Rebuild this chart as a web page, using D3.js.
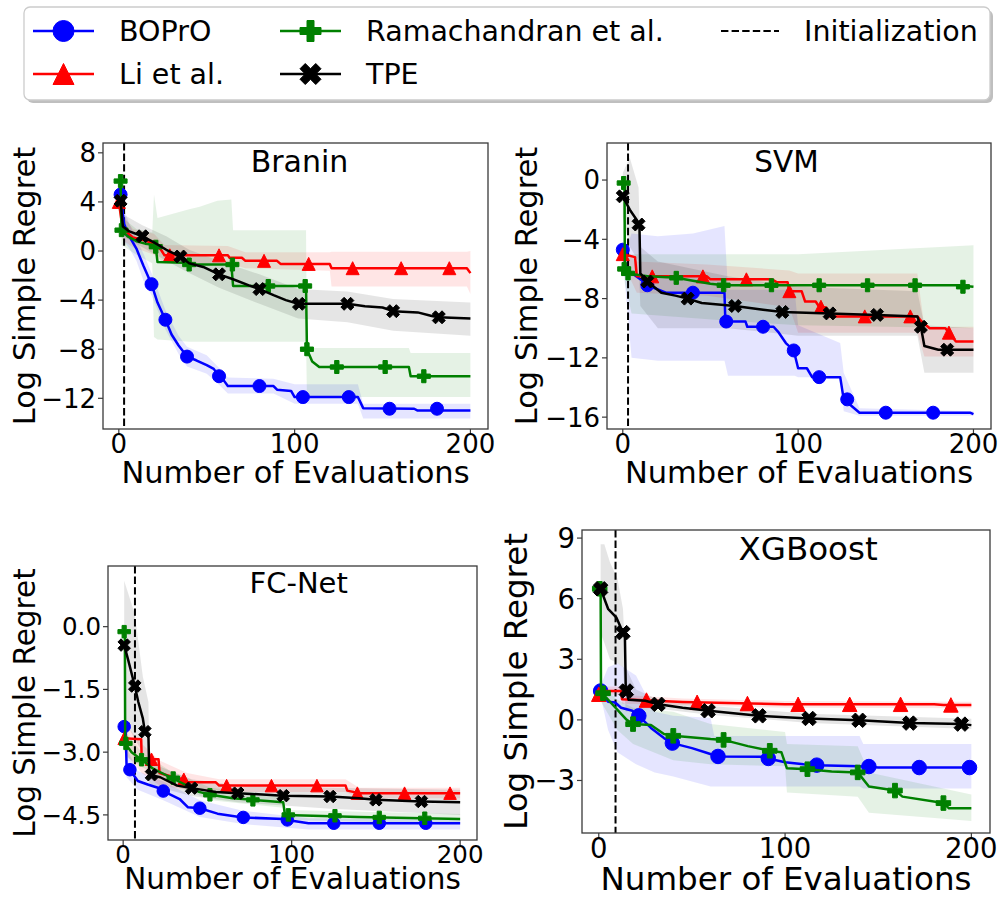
<!DOCTYPE html>
<html>
<head>
<meta charset="utf-8">
<script src="https://cdn.jsdelivr.net/npm/d3@7"></script>
<style>
body { margin: 0; background: #fff; }
svg { font-family: "DejaVu Sans", sans-serif; }
</style>
</head>
<body>
<div id="chart"></div>
<script>
var methods = ["BOPrO", "Li et al.", "Ramachandran et al.", "TPE"];
var xTicks = [0, 100, 200];

// ---- Branin ----
var braninYTicks = [8, 4, 0, -4, -8, -12];
var braninBoproLine = [[1,4.6],[3,2.2],[6,1.2],[10,0.2],[14,-1.2],[18.6,-2.7],[22,-4.2],[26.5,-5.6],[30,-6.8],[34,-7.7],[38.8,-8.6],[44,-8.9],[50,-9.3],[54,-9.6],[57,-10.2],[60,-10.6],[62,-11.0],[88,-11.0],[90,-11.3],[98,-11.4],[100,-11.9],[136,-11.9],[139,-12.8],[168,-12.85],[170,-13.0],[200,-13.0]];
var braninBoproBand = [[1,3.8,5.3],[3,0.8,3.4],[6,0.2,2.2],[10,-0.8,1.0],[14,-2.4,-0.2],[18.6,-3.6,-1.8],[26.5,-6.4,-4.8],[34,-8.4,-6.9],[38.8,-9.4,-7.8],[50,-10.0,-8.5],[57,-10.9,-9.5],[62,-11.6,-10.3],[88,-11.6,-10.4],[100,-12.45,-10.85],[136,-12.45,-10.85],[139,-13.65,-12.45],[200,-13.65,-12.45]];
var braninBoproMarks = [[1,4.6],[18.6,-2.7],[26.5,-5.6],[38.8,-8.6],[57,-10.2],[80,-11.0],[104.7,-11.9],[130.8,-11.9],[154,-12.85],[181,-12.85]];
var braninLiLine = [[0,4.0],[2,2.0],[4,1.6],[8,1.1],[14,0.9],[20,0.6],[24,0.1],[26,-0.35],[62,-0.35],[63,-0.55],[70,-0.55],[72,-0.8],[90,-0.8],[92,-1.05],[120,-1.05],[121,-1.4],[198,-1.4],[200,-1.8]];
var braninLiBand = [[0,3.5,4.5],[2,0.9,3.0],[8,0.3,1.8],[20,-0.3,1.4],[26,-1.0,0.5],[62,-1.0,0.4],[72,-1.4,-0.1],[120,-1.6,-0.1],[121,-2.9,-0.05],[198,-2.9,-0.05],[200,-3.5,0.0]];
var braninLiMarks = [[0,4.0],[29,-0.35],[57,-0.35],[82.6,-0.8],[108,-1.05],[133,-1.4],[160.6,-1.4],[188,-1.4]];
var braninRamLine = [[1,5.7],[1.5,1.7],[5,1.2],[10,0.8],[15,0.6],[20,0.5],[21,0.35],[22,-0.9],[37,-0.95],[40,-1.1],[64,-1.1],[65,-2.85],[106.5,-2.85],[107,-8.0],[110,-9.0],[114,-9.45],[165,-9.45],[166,-10.2],[200,-10.2]];
var braninRamBand = [[1,4.8,6.5],[1.5,0.5,2.8],[10,-0.3,1.8],[19,-1.0,1.5],[20,-7.0,4.6],[22,-7.2,2.7],[40,-7.4,3.4],[46,-7.4,3.6],[56,-7.4,4.1],[64,-7.4,4.2],[65,-7.4,1.7],[106.5,-7.4,1.7],[107,-11.9,-7.9],[165,-11.9,-7.9],[166,-11.9,-8.3],[200,-11.9,-8.3]];
var braninRamMarks = [[1,5.7],[1.5,1.7],[21,0.35],[40,-1.1],[64.6,-1.1],[85,-2.85],[106,-2.85],[107,-8.0],[124,-9.45],[151.5,-9.45],[173.5,-10.2]];
var braninTpeLine = [[1,4.1],[2.3,2.0],[6,1.6],[13.4,1.2],[20,0.7],[27,0.1],[35,-0.45],[40,-1.0],[48,-1.3],[57,-1.9],[65,-2.3],[74,-2.8],[80,-3.1],[88,-3.6],[95,-4.0],[102,-4.3],[130,-4.3],[140,-4.5],[150,-4.6],[156,-4.9],[170,-5.0],[178,-5.3],[182,-5.4],[200,-5.5]];
var braninTpeBand = [[1,3.5,4.8],[2.3,1.2,3.0],[13.4,0.3,2.1],[27,-0.8,1.2],[40,-1.8,0.1],[57,-3.0,-0.8],[80,-4.3,-1.9],[102,-5.5,-3.1],[130,-5.8,-3.3],[156,-6.5,-3.9],[200,-6.9,-4.2]];
var braninTpeMarks = [[1,4.1],[13.4,1.2],[35,-0.45],[57,-1.9],[80,-3.1],[102.5,-4.3],[130,-4.3],[156,-4.9],[182,-5.4]];

// ---- SVM ----
var svmYTicks = [0, -4, -8, -12, -16];
var svmBoproLine = [[0,-4.7],[2,-6.0],[5.5,-6.3],[10,-6.7],[15,-7.15],[24.6,-7.6],[58,-7.6],[58.5,-9.55],[70,-9.55],[71,-9.9],[86,-9.9],[89,-10.3],[93,-11.0],[97.5,-11.5],[100,-12.7],[105,-12.7],[108,-13.3],[124,-13.3],[126,-14.8],[130,-15.2],[135,-15.7],[198,-15.7],[200,-15.8]];
var svmBoproBand = [[0,-5.2,-4.2],[2,-8.0,-4.6],[5,-12.0,-3.6],[20,-12.2,-3.8],[40,-12.2,-3.6],[58,-12.2,-3.1],[60,-13.2,-7.4],[98,-13.2,-7.4],[100,-13.3,-9.8],[124,-13.3,-11.0],[126,-15.6,-13.0],[135,-15.9,-15.4],[200,-15.9,-15.6]];
var svmBoproMarks = [[0,-4.7],[14,-7.1],[40,-7.6],[59,-9.55],[80,-9.9],[97.5,-11.5],[112,-13.3],[128,-14.8],[150,-15.7],[177,-15.7]];
var svmLiLine = [[0,-5.0],[7,-5.2],[8,-6.5],[48,-6.5],[50,-6.7],[85,-6.7],[88,-6.9],[94,-6.9],[95,-7.5],[102,-7.5],[104,-8.2],[110,-8.2],[112,-8.55],[116,-8.6],[118,-9.2],[168,-9.2],[170,-9.5],[175,-10.0],[184,-10.0],[186,-10.3],[190,-10.9],[200,-10.9]];
var svmLiBand = [[0,-5.6,-4.4],[8,-7.6,-5.5],[48,-7.8,-5.7],[95,-8.6,-6.1],[100,-10.3,-6.3],[168,-10.3,-6.3],[172,-11.9,-9.9],[200,-11.9,-9.9]];
var svmLiMarks = [[0,-5.0],[16.8,-6.5],[45.7,-6.5],[70.5,-6.7],[95,-7.5],[113,-8.55],[138,-9.2],[164,-9.2],[186,-10.3]];
var svmRamLine = [[0,-0.2],[1,-0.2],[1.2,-6.0],[3,-6.3],[15,-6.5],[30.5,-6.6],[40,-6.8],[50,-7.0],[57.5,-7.1],[190,-7.1],[200,-7.2]];
var svmRamBand = [[0,-0.8,0.4],[1.2,-7.0,-5.0],[5,-9.0,-5.0],[60,-9.5,-5.0],[100,-9.8,-5.0],[200,-10.0,-4.4]];
var svmRamMarks = [[0.5,-0.2],[0.8,-6.0],[3,-6.3],[30.5,-6.6],[57.5,-7.1],[84.8,-7.1],[112,-7.1],[139.6,-7.1],[166.7,-7.1],[194,-7.2]];
var svmTpeLine = [[0,-1.1],[4,-2.0],[8,-2.7],[9.5,-3.0],[10,-6.3],[14,-6.85],[22,-7.6],[30,-7.8],[37,-8.0],[45,-8.3],[64,-8.5],[80,-8.75],[91,-8.9],[118,-9.0],[145,-9.1],[168,-9.2],[170,-9.9],[172,-11.2],[180,-11.45],[200,-11.45]];
var svmTpeBand = [[0,-2.5,0.5],[4,-4.5,1.5],[9,-5.5,-0.5],[10,-8.5,-4.5],[20,-10.0,-5.5],[60,-10.0,-6.5],[100,-10.5,-7.2],[168,-10.5,-7.5],[172,-13.0,-9.8],[200,-13.0,-10.0]];
var svmTpeMarks = [[0,-1.1],[9,-3.0],[14,-6.85],[37,-8.0],[64,-8.5],[91,-8.9],[118,-9.0],[145,-9.1],[170,-9.9],[185,-11.45]];

// ---- FC-Net ----
var fcYTicks = [0.0, -1.5, -3.0, -4.5];
var fcBoproLine = [[0.6,-2.39],[1.5,-2.39],[2,-3.3],[4,-3.42],[8.7,-3.69],[15,-3.78],[20.6,-3.85],[23.8,-3.93],[33.5,-4.12],[38.5,-4.32],[45.5,-4.34],[56,-4.47],[71,-4.56],[95,-4.6],[97.4,-4.62],[110,-4.7],[200,-4.7]];
var fcBoproBand = [[0.6,-2.6,-2.2],[2,-3.6,-2.9],[8.7,-3.9,-3.45],[23.8,-4.15,-3.7],[45.5,-4.55,-4.15],[71,-4.72,-4.4],[110,-4.85,-4.58],[200,-4.85,-4.6]];
var fcBoproMarks = [[0.6,-2.39],[4,-3.42],[23.8,-3.93],[45.5,-4.34],[71.3,-4.56],[97.4,-4.62],[125,-4.7],[152,-4.7],[179.6,-4.7]];
var fcLiLine = [[0.6,-2.67],[10.7,-2.69],[11,-3.17],[21,-3.17],[21.6,-3.5],[30,-3.6],[36,-3.65],[38,-3.72],[55,-3.72],[57,-3.8],[132,-3.8],[133,-3.92],[140,-3.98],[200,-3.98]];
var fcLiBand = [[0.6,-3.0,-2.3],[11,-3.5,-2.8],[21.6,-3.8,-3.2],[38,-3.9,-3.5],[57,-3.95,-3.65],[132,-3.95,-3.65],[140,-4.1,-3.85],[200,-4.1,-3.85]];
var fcLiMarks = [[0.6,-2.67],[16.8,-3.17],[36,-3.65],[61.4,-3.8],[88,-3.8],[115,-3.8],[139,-3.98],[167,-3.98],[194,-3.98]];
var fcRamLine = [[0.6,-0.12],[1,-0.12],[1.2,-2.79],[5,-3.0],[10.9,-3.18],[18,-3.4],[28,-3.6],[38,-3.8],[45,-3.95],[52,-4.02],[65,-4.1],[77,-4.14],[95,-4.2],[96,-4.5],[140,-4.55],[200,-4.6]];
var fcRamBand = [[0.6,-0.4,0.2],[1.2,-3.1,-2.5],[10.9,-3.35,-3.0],[28,-3.75,-3.45],[52,-4.15,-3.85],[95,-4.33,-4.05],[96,-4.62,-4.38],[200,-4.72,-4.48]];
var fcRamMarks = [[0.6,-0.12],[1.6,-2.79],[10.9,-3.18],[29.7,-3.62],[51.5,-4.02],[77,-4.14],[98,-4.5],[125.7,-4.52],[152,-4.56],[179,-4.58]];
var fcTpeLine = [[0.6,-0.44],[3,-0.8],[6.9,-1.42],[9,-1.8],[11.7,-2.2],[12.9,-2.51],[15,-2.6],[15.5,-3.54],[22,-3.6],[32,-3.8],[40.6,-3.86],[55,-3.95],[68,-3.98],[95,-4.04],[123,-4.06],[140,-4.1],[150,-4.14],[177,-4.18],[200,-4.2]];
var fcTpeBand = [[0.6,-2.2,1.1],[6.9,-2.7,0.3],[11.7,-3.0,-1.2],[15,-3.2,-1.8],[15.5,-3.8,-3.2],[22,-3.85,-3.35],[40.6,-4.05,-3.65],[68,-4.2,-3.8],[123,-4.35,-3.85],[200,-4.5,-3.9]];
var fcTpeMarks = [[0.6,-0.44],[6.9,-1.42],[12.9,-2.51],[16.8,-3.54],[40.6,-3.86],[68,-3.98],[95,-4.04],[122.8,-4.06],[150,-4.14],[177,-4.18]];

// ---- XGBoost ----
var xgbYTicks = [9, 6, 3, 0, -3];
var xgbBoproLine = [[1,1.43],[3,1.1],[5,0.9],[8.8,0.86],[12,0.6],[18,0.45],[21.5,0.2],[28,-0.4],[35,-0.9],[39.5,-1.15],[50,-1.4],[57,-1.6],[64,-1.81],[88,-1.82],[91,-1.91],[100,-2.1],[110,-2.2],[117,-2.24],[140,-2.3],[150,-2.36],[200,-2.36]];
var xgbBoproBand = [[1,1.2,1.7],[5,-0.5,2.6],[10,-1.6,2.8],[20,-2.2,2.2],[30,-2.6,0.4],[40,-2.8,0.2],[60,-3.3,0.1],[62,-3.3,-0.8],[140,-3.3,-0.8],[142,-3.4,-1.2],[200,-3.4,-1.2]];
var xgbBoproMarks = [[1,1.43],[21.5,0.2],[39.5,-1.15],[64,-1.81],[91,-1.91],[117,-2.24],[145,-2.31],[172,-2.36],[199,-2.36]];
var xgbLiLine = [[0,1.27],[2,1.43],[12,1.43],[12.5,1.02],[30,0.95],[45,0.89],[75,0.82],[100,0.77],[180,0.77],[185,0.74],[200,0.74]];
var xgbLiBand = [[0,1.1,1.45],[2,1.25,1.65],[12,1.25,1.65],[12.5,0.8,1.25],[45,0.72,1.06],[100,0.6,0.94],[200,0.58,0.9]];
var xgbLiMarks = [[0,1.27],[25.6,0.98],[52.8,0.87],[79.8,0.81],[107,0.77],[134.7,0.77],[162,0.77],[189,0.74]];
var xgbRamLine = [[0.5,6.49],[1,6.49],[1.2,1.3],[3,1.2],[8,0.7],[12,0.3],[15,0.0],[18.4,-0.21],[28,-0.25],[35,-0.7],[40,-0.79],[60,-0.95],[67,-0.99],[80,-1.3],[92,-1.53],[98,-1.6],[101,-2.4],[112,-2.44],[125,-2.55],[139,-2.6],[145,-3.3],[159,-3.5],[163,-3.8],[185,-4.12],[188,-4.38],[200,-4.38]];
var xgbRamBand = [[0.5,6.2,6.8],[1.2,0.9,1.7],[10,-0.5,1.0],[18.4,-1.2,0.6],[40,-2.0,0.4],[60,-2.2,-0.2],[100,-2.3,-0.6],[101,-3.6,-1.2],[139,-3.8,-1.3],[145,-4.6,-2.6],[200,-5.0,-3.7]];
var xgbRamMarks = [[0.5,6.49],[2.3,1.32],[18.4,-0.21],[40,-0.79],[67,-0.99],[91.8,-1.53],[112,-2.44],[139,-2.6],[159,-3.5],[185,-4.12]];
var xgbTpeLine = [[1,6.49],[5,5.5],[9.5,5.06],[13,4.32],[14,4.32],[14.5,1.5],[16,1.0],[25,0.95],[32,0.77],[45,0.6],[59,0.45],[75,0.3],[86,0.2],[113,0.07],[140,-0.02],[167,-0.16],[195,-0.21],[200,-0.26]];
var xgbTpeBand = [[1,4.3,8.7],[3,3.8,8.7],[6,3.0,7.8],[10,2.8,7.0],[13,2.6,5.5],[14.5,0.4,2.6],[20,0.5,1.5],[32,0.55,1.0],[59,0.25,0.7],[113,-0.15,0.3],[200,-0.45,0.05]];
var xgbTpeMarks = [[1,6.49],[13,4.32],[14.8,1.43],[31.8,0.77],[58.7,0.45],[86,0.2],[112.9,0.07],[139.7,-0.02],[166.9,-0.16],[194.6,-0.21]];

var colors = ["blue", "red", "green", "black"];
var kinds = ["circle", "triangle", "plus", "cross"];

var svg = d3.select("#chart").append("svg")
    .attr("width", 1000)
    .attr("height", 898);

// marker outline centred on 0,0 inside a box of size s
function markerPath(kind, s) {
    var h = s / 2;
    if (kind == "circle") {
        return "M" + h + ",0A" + h + "," + h + " 0 1 1 " + (-h) + ",0A" + h + "," + h + " 0 1 1 " + h + ",0Z";
    }
    if (kind == "triangle") {
        return "M0," + (-h) + "L" + (-h) + "," + h + "L" + h + "," + h + "Z";
    }
    var pts;
    if (kind == "plus") {
        pts = [[-1,-3],[-1,-1],[-3,-1],[-3,1],[-1,1],[-1,3],[1,3],[1,1],[3,1],[3,-1],[1,-1],[1,-3]].map(function(p) { return [p[0]/6*s, p[1]/6*s]; });
    } else {
        pts = [[-1,-2],[0,-1],[1,-2],[2,-1],[1,0],[2,1],[1,2],[0,1],[-1,2],[-2,1],[-1,0],[-2,-1]].map(function(p) { return [p[0]/4*s, p[1]/4*s]; });
    }
    return "M" + pts.map(function(p) { return p.join(","); }).join("L") + "Z";
}

var panels = [
    {title: "Branin", box: [103, 143, 385, 286], yDom: [-14.5, 8.8], yTicks: braninYTicks, fmt: d3.format("d"),
     init: 3, tickFs: 26, labFs: 30.5, titleFs: 30, ylabX: 35, xlabY: 483, xtickY: 453, ms: 13,
     lines: [braninBoproLine, braninLiLine, braninRamLine, braninTpeLine],
     bands: [braninBoproBand, braninLiBand, braninRamBand, braninTpeBand],
     marks: [braninBoproMarks, braninLiMarks, braninRamMarks, braninTpeMarks]},
    {title: "SVM", box: [607, 143, 384, 286], yDom: [-16.8, 2.5], yTicks: svmYTicks, fmt: d3.format("d"),
     init: 3, tickFs: 26, labFs: 30.5, titleFs: 29.5, ylabX: 537, xlabY: 483, xtickY: 453, ms: 13,
     lines: [svmBoproLine, svmLiLine, svmRamLine, svmTpeLine],
     bands: [svmBoproBand, svmLiBand, svmRamBand, svmTpeBand],
     marks: [svmBoproMarks, svmLiMarks, svmRamMarks, svmTpeMarks]},
    {title: "FC-Net", box: [108, 566, 369, 274], yDom: [-5.1, 1.45], yTicks: fcYTicks, fmt: d3.format(".1f"),
     init: 7, tickFs: 24.5, labFs: 29.5, titleFs: 29, ylabX: 35, xlabY: 889, xtickY: 863, ms: 12.5,
     lines: [fcBoproLine, fcLiLine, fcRamLine, fcTpeLine],
     bands: [fcBoproBand, fcLiBand, fcRamBand, fcTpeBand],
     marks: [fcBoproMarks, fcLiMarks, fcRamMarks, fcTpeMarks]},
    {title: "XGBoost", box: [582, 530, 408, 303], yDom: [-5.6, 9.4], yTicks: xgbYTicks, fmt: d3.format("d"),
     init: 9, tickFs: 27.5, labFs: 32.5, titleFs: 32.5, ylabX: 527, xlabY: 890, xtickY: 858, ms: 14.5,
     lines: [xgbBoproLine, xgbLiLine, xgbRamLine, xgbTpeLine],
     bands: [xgbBoproBand, xgbLiBand, xgbRamBand, xgbTpeBand],
     marks: [xgbBoproMarks, xgbLiMarks, xgbRamMarks, xgbTpeMarks]}
];

panels.forEach(function(p, pi) {
    var bx = p.box[0], by = p.box[1], bw = p.box[2], bh = p.box[3];
    var x = d3.scaleLinear().domain([-9, 210]).range([bx, bx + bw]);
    var y = d3.scaleLinear().domain(p.yDom).range([by + bh, by]);
    var g = svg.append("g").attr("class", "panel" + pi);

    g.append("clipPath").attr("id", "clip" + pi)
        .append("rect").attr("x", bx).attr("y", by).attr("width", bw).attr("height", bh);

    var plot = g.append("g").attr("clip-path", "url(#clip" + pi + ")");

    var area = d3.area()
        .x(function(d) { return x(d[0]); })
        .y0(function(d) { return y(d[1]); })
        .y1(function(d) { return y(d[2]); });
    var line = d3.line()
        .x(function(d) { return x(d[0]); })
        .y(function(d) { return y(d[1]); });

    p.bands.forEach(function(b, i) {
        plot.append("path")
            .attr("d", area(b))
            .attr("fill", colors[i])
            .attr("fill-opacity", 0.1);
    });

    // initialization marker
    plot.append("line")
        .attr("x1", x(p.init)).attr("x2", x(p.init))
        .attr("y1", by).attr("y2", by + bh)
        .attr("stroke", "black")
        .attr("stroke-width", 2)
        .attr("stroke-dasharray", "7.4,3.2");

    p.lines.forEach(function(l, i) {
        plot.append("path")
            .attr("d", line(l))
            .attr("fill", "none")
            .attr("stroke", colors[i])
            .attr("stroke-width", 2.5)
            .attr("stroke-linejoin", "round");
        plot.selectAll(".m" + i)
            .data(p.marks[i])
            .enter()
            .append("path")
            .attr("class", "m" + i)
            .attr("transform", function(d) { return "translate(" + x(d[0]) + "," + y(d[1]) + ")"; })
            .attr("d", markerPath(kinds[i], p.ms))
            .attr("fill", colors[i])
            .attr("stroke", colors[i])
            .attr("stroke-width", 1);
    });

    // axes box
    g.append("rect")
        .attr("x", bx).attr("y", by).attr("width", bw).attr("height", bh)
        .attr("fill", "none")
        .attr("stroke", "#3a3a3a")
        .attr("stroke-width", 1.3);

    // ticks
    g.selectAll(".xt").data(xTicks).enter().append("line")
        .attr("x1", function(d) { return x(d); }).attr("x2", function(d) { return x(d); })
        .attr("y1", by + bh).attr("y2", by + bh + 5)
        .attr("stroke", "#3a3a3a").attr("stroke-width", 1.2);
    g.selectAll(".xl").data(xTicks).enter().append("text")
        .attr("x", function(d) { return x(d); })
        .attr("y", p.xtickY)
        .attr("text-anchor", "middle")
        .attr("font-size", p.tickFs)
        .text(function(d) { return d; });
    g.selectAll(".yt").data(p.yTicks).enter().append("line")
        .attr("x1", bx - 5).attr("x2", bx)
        .attr("y1", function(d) { return y(d); }).attr("y2", function(d) { return y(d); })
        .attr("stroke", "#3a3a3a").attr("stroke-width", 1.2);
    g.selectAll(".yl").data(p.yTicks).enter().append("text")
        .attr("x", bx - 7)
        .attr("y", function(d) { return y(d); })
        .attr("dy", "0.36em")
        .attr("text-anchor", "end")
        .attr("font-size", p.tickFs)
        .text(function(d) { return p.fmt(d); });

    // labels
    g.append("text")
        .attr("x", bx + bw / 2)
        .attr("y", p.xlabY)
        .attr("text-anchor", "middle")
        .attr("font-size", p.labFs)
        .text("Number of Evaluations");
    g.append("text")
        .attr("transform", "translate(" + p.ylabX + "," + (by + bh / 2) + ") rotate(-90)")
        .attr("text-anchor", "middle")
        .attr("font-size", p.labFs)
        .text("Log Simple Regret");
    g.append("text")
        .attr("x", x(75))
        .attr("y", by + bh * 0.1)
        .attr("font-size", p.titleFs)
        .text(p.title);
});

// legend
var legend = svg.append("g").attr("class", "legend");
legend.append("rect")
    .attr("x", 27).attr("y", 10).attr("width", 966).attr("height", 93)
    .attr("rx", 6).attr("fill", "#000").attr("fill-opacity", 0.25);
legend.append("rect")
    .attr("x", 24).attr("y", 7).attr("width", 966).attr("height", 93)
    .attr("rx", 6).attr("fill", "#fff").attr("stroke", "#cccccc").attr("stroke-width", 1.3);

var legendPos = [[33, 31], [33, 74], [280, 31], [280, 74]];
methods.forEach(function(m, i) {
    var lx = legendPos[i][0], ly = legendPos[i][1];
    legend.append("line")
        .attr("x1", lx).attr("x2", lx + 61)
        .attr("y1", ly).attr("y2", ly)
        .attr("stroke", colors[i]).attr("stroke-width", 2.5);
    legend.append("path")
        .attr("transform", "translate(" + (lx + 30.5) + "," + ly + ")")
        .attr("d", markerPath(kinds[i], 21))
        .attr("fill", colors[i]).attr("stroke", colors[i]).attr("stroke-width", 1);
    legend.append("text")
        .attr("x", lx + 86).attr("y", ly + 10)
        .attr("font-size", 28.5)
        .text(m);
});
legend.append("line")
    .attr("x1", 721).attr("x2", 779)
    .attr("y1", 31).attr("y2", 31)
    .attr("stroke", "black").attr("stroke-width", 2)
    .attr("stroke-dasharray", "7.4,3.2");
legend.append("text")
    .attr("x", 804).attr("y", 41)
    .attr("font-size", 28.5)
    .text("Initialization");
</script>
</body>
</html>
